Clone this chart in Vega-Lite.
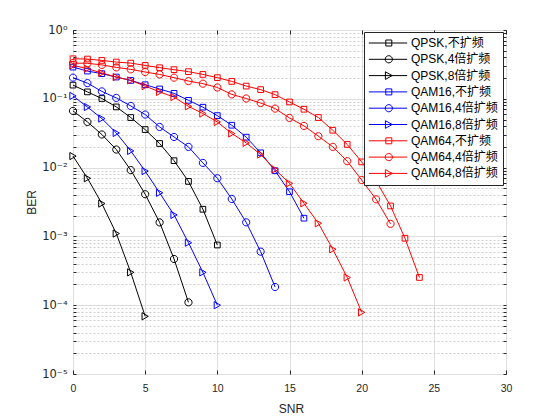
{
  "$schema": "https://vega.github.io/schema/vega-lite/v6.json",
  "width": 433,
  "height": 344,
  "autosize": "none",
  "padding": {"left": 73, "top": 30, "right": 54, "bottom": 46},
  "background": "white",
  "config": {
    "view": {"stroke": "#262626", "strokeWidth": 1},
    "font": "Liberation Sans, DejaVu Sans, Noto Sans CJK SC"
  },
  "data": {
    "values": [
      {"series": "QPSK,不扩频", "snr": 0, "ber": 0.158},
      {"series": "QPSK,不扩频", "snr": 1, "ber": 0.126},
      {"series": "QPSK,不扩频", "snr": 2, "ber": 0.101},
      {"series": "QPSK,不扩频", "snr": 3, "ber": 0.0762},
      {"series": "QPSK,不扩频", "snr": 4, "ber": 0.0534},
      {"series": "QPSK,不扩频", "snr": 5, "ber": 0.0357},
      {"series": "QPSK,不扩频", "snr": 6, "ber": 0.0224},
      {"series": "QPSK,不扩频", "snr": 7, "ber": 0.0126},
      {"series": "QPSK,不扩频", "snr": 8, "ber": 0.0063},
      {"series": "QPSK,不扩频", "snr": 9, "ber": 0.00248},
      {"series": "QPSK,不扩频", "snr": 10, "ber": 0.00075},
      {"series": "QPSK,4倍扩频", "snr": 0, "ber": 0.0667},
      {"series": "QPSK,4倍扩频", "snr": 1, "ber": 0.0461},
      {"series": "QPSK,4倍扩频", "snr": 2, "ber": 0.0303},
      {"series": "QPSK,4倍扩频", "snr": 3, "ber": 0.0183},
      {"series": "QPSK,4倍扩频", "snr": 4, "ber": 0.0092},
      {"series": "QPSK,4倍扩频", "snr": 5, "ber": 0.0041},
      {"series": "QPSK,4倍扩频", "snr": 6, "ber": 0.0016},
      {"series": "QPSK,4倍扩频", "snr": 7, "ber": 0.00047},
      {"series": "QPSK,4倍扩频", "snr": 8, "ber": 0.00011},
      {"series": "QPSK,8倍扩频", "snr": 0, "ber": 0.0147},
      {"series": "QPSK,8倍扩频", "snr": 1, "ber": 0.0070},
      {"series": "QPSK,8倍扩频", "snr": 2, "ber": 0.0030},
      {"series": "QPSK,8倍扩频", "snr": 3, "ber": 0.0011},
      {"series": "QPSK,8倍扩频", "snr": 4, "ber": 0.0003},
      {"series": "QPSK,8倍扩频", "snr": 5, "ber": 0.000069},
      {"series": "QAM16,不扩频", "snr": 0, "ber": 0.289},
      {"series": "QAM16,不扩频", "snr": 1, "ber": 0.253},
      {"series": "QAM16,不扩频", "snr": 2, "ber": 0.232},
      {"series": "QAM16,不扩频", "snr": 3, "ber": 0.207},
      {"series": "QAM16,不扩频", "snr": 4, "ber": 0.185},
      {"series": "QAM16,不扩频", "snr": 5, "ber": 0.160},
      {"series": "QAM16,不扩频", "snr": 6, "ber": 0.139},
      {"series": "QAM16,不扩频", "snr": 7, "ber": 0.120},
      {"series": "QAM16,不扩频", "snr": 8, "ber": 0.095},
      {"series": "QAM16,不扩频", "snr": 9, "ber": 0.0755},
      {"series": "QAM16,不扩频", "snr": 10, "ber": 0.057},
      {"series": "QAM16,不扩频", "snr": 11, "ber": 0.0413},
      {"series": "QAM16,不扩频", "snr": 12, "ber": 0.0277},
      {"series": "QAM16,不扩频", "snr": 13, "ber": 0.0164},
      {"series": "QAM16,不扩频", "snr": 14, "ber": 0.0090},
      {"series": "QAM16,不扩频", "snr": 15, "ber": 0.00446},
      {"series": "QAM16,不扩频", "snr": 16, "ber": 0.00184},
      {"series": "QAM16,4倍扩频", "snr": 0, "ber": 0.203},
      {"series": "QAM16,4倍扩频", "snr": 1, "ber": 0.169},
      {"series": "QAM16,4倍扩频", "snr": 2, "ber": 0.128},
      {"series": "QAM16,4倍扩频", "snr": 3, "ber": 0.103},
      {"series": "QAM16,4倍扩频", "snr": 4, "ber": 0.0787},
      {"series": "QAM16,4倍扩频", "snr": 5, "ber": 0.059},
      {"series": "QAM16,4倍扩频", "snr": 6, "ber": 0.039},
      {"series": "QAM16,4倍扩频", "snr": 7, "ber": 0.0279},
      {"series": "QAM16,4倍扩频", "snr": 8, "ber": 0.020},
      {"series": "QAM16,4倍扩频", "snr": 9, "ber": 0.0117},
      {"series": "QAM16,4倍扩频", "snr": 10, "ber": 0.0070},
      {"series": "QAM16,4倍扩频", "snr": 11, "ber": 0.0035},
      {"series": "QAM16,4倍扩频", "snr": 12, "ber": 0.0016},
      {"series": "QAM16,4倍扩频", "snr": 13, "ber": 0.0006},
      {"series": "QAM16,4倍扩频", "snr": 14, "ber": 0.000184},
      {"series": "QAM16,8倍扩频", "snr": 0, "ber": 0.110},
      {"series": "QAM16,8倍扩频", "snr": 1, "ber": 0.076},
      {"series": "QAM16,8倍扩频", "snr": 2, "ber": 0.0516},
      {"series": "QAM16,8倍扩频", "snr": 3, "ber": 0.0319},
      {"series": "QAM16,8倍扩频", "snr": 4, "ber": 0.0175},
      {"series": "QAM16,8倍扩频", "snr": 5, "ber": 0.0089},
      {"series": "QAM16,8倍扩频", "snr": 6, "ber": 0.0043},
      {"series": "QAM16,8倍扩频", "snr": 7, "ber": 0.00205},
      {"series": "QAM16,8倍扩频", "snr": 8, "ber": 0.00081},
      {"series": "QAM16,8倍扩频", "snr": 9, "ber": 0.0003},
      {"series": "QAM16,8倍扩频", "snr": 10, "ber": 0.0001},
      {"series": "QAM64,不扩频", "snr": 0, "ber": 0.382},
      {"series": "QAM64,不扩频", "snr": 1, "ber": 0.378},
      {"series": "QAM64,不扩频", "snr": 2, "ber": 0.361},
      {"series": "QAM64,不扩频", "snr": 3, "ber": 0.342},
      {"series": "QAM64,不扩频", "snr": 4, "ber": 0.330},
      {"series": "QAM64,不扩频", "snr": 5, "ber": 0.306},
      {"series": "QAM64,不扩频", "snr": 6, "ber": 0.283},
      {"series": "QAM64,不扩频", "snr": 7, "ber": 0.265},
      {"series": "QAM64,不扩频", "snr": 8, "ber": 0.248},
      {"series": "QAM64,不扩频", "snr": 9, "ber": 0.226},
      {"series": "QAM64,不扩频", "snr": 10, "ber": 0.203},
      {"series": "QAM64,不扩频", "snr": 11, "ber": 0.179},
      {"series": "QAM64,不扩频", "snr": 12, "ber": 0.153},
      {"series": "QAM64,不扩频", "snr": 13, "ber": 0.136},
      {"series": "QAM64,不扩频", "snr": 14, "ber": 0.115},
      {"series": "QAM64,不扩频", "snr": 15, "ber": 0.090},
      {"series": "QAM64,不扩频", "snr": 16, "ber": 0.0705},
      {"series": "QAM64,不扩频", "snr": 17, "ber": 0.0534},
      {"series": "QAM64,不扩频", "snr": 18, "ber": 0.0349},
      {"series": "QAM64,不扩频", "snr": 19, "ber": 0.0217},
      {"series": "QAM64,不扩频", "snr": 20, "ber": 0.0121},
      {"series": "QAM64,不扩频", "snr": 21, "ber": 0.0064},
      {"series": "QAM64,不扩频", "snr": 22, "ber": 0.00277},
      {"series": "QAM64,不扩频", "snr": 23, "ber": 0.00094},
      {"series": "QAM64,不扩频", "snr": 24, "ber": 0.000253},
      {"series": "QAM64,4倍扩频", "snr": 0, "ber": 0.330},
      {"series": "QAM64,4倍扩频", "snr": 1, "ber": 0.328},
      {"series": "QAM64,4倍扩频", "snr": 2, "ber": 0.311},
      {"series": "QAM64,4倍扩频", "snr": 3, "ber": 0.286},
      {"series": "QAM64,4倍扩频", "snr": 4, "ber": 0.268},
      {"series": "QAM64,4倍扩频", "snr": 5, "ber": 0.245},
      {"series": "QAM64,4倍扩频", "snr": 6, "ber": 0.226},
      {"series": "QAM64,4倍扩频", "snr": 7, "ber": 0.203},
      {"series": "QAM64,4倍扩频", "snr": 8, "ber": 0.181},
      {"series": "QAM64,4倍扩频", "snr": 9, "ber": 0.166},
      {"series": "QAM64,4倍扩频", "snr": 10, "ber": 0.146},
      {"series": "QAM64,4倍扩频", "snr": 11, "ber": 0.116},
      {"series": "QAM64,4倍扩频", "snr": 12, "ber": 0.101},
      {"series": "QAM64,4倍扩频", "snr": 13, "ber": 0.0869},
      {"series": "QAM64,4倍扩频", "snr": 14, "ber": 0.0721},
      {"series": "QAM64,4倍扩频", "snr": 15, "ber": 0.0527},
      {"series": "QAM64,4倍扩频", "snr": 16, "ber": 0.0404},
      {"series": "QAM64,4倍扩频", "snr": 17, "ber": 0.0286},
      {"series": "QAM64,4倍扩频", "snr": 18, "ber": 0.0200},
      {"series": "QAM64,4倍扩频", "snr": 19, "ber": 0.0124},
      {"series": "QAM64,4倍扩频", "snr": 20, "ber": 0.0066},
      {"series": "QAM64,4倍扩频", "snr": 21, "ber": 0.00346},
      {"series": "QAM64,4倍扩频", "snr": 22, "ber": 0.00152},
      {"series": "QAM64,8倍扩频", "snr": 0, "ber": 0.306},
      {"series": "QAM64,8倍扩频", "snr": 1, "ber": 0.274},
      {"series": "QAM64,8倍扩频", "snr": 2, "ber": 0.237},
      {"series": "QAM64,8倍扩频", "snr": 3, "ber": 0.207},
      {"series": "QAM64,8倍扩频", "snr": 4, "ber": 0.185},
      {"series": "QAM64,8倍扩频", "snr": 5, "ber": 0.153},
      {"series": "QAM64,8倍扩频", "snr": 6, "ber": 0.126},
      {"series": "QAM64,8倍扩频", "snr": 7, "ber": 0.106},
      {"series": "QAM64,8倍扩频", "snr": 8, "ber": 0.0778},
      {"series": "QAM64,8倍扩频", "snr": 9, "ber": 0.061},
      {"series": "QAM64,8倍扩频", "snr": 10, "ber": 0.0461},
      {"series": "QAM64,8倍扩频", "snr": 11, "ber": 0.0313},
      {"series": "QAM64,8倍扩频", "snr": 12, "ber": 0.0229},
      {"series": "QAM64,8倍扩频", "snr": 13, "ber": 0.0155},
      {"series": "QAM64,8倍扩频", "snr": 14, "ber": 0.0094},
      {"series": "QAM64,8倍扩频", "snr": 15, "ber": 0.0059},
      {"series": "QAM64,8倍扩频", "snr": 16, "ber": 0.00303},
      {"series": "QAM64,8倍扩频", "snr": 17, "ber": 0.00155},
      {"series": "QAM64,8倍扩频", "snr": 18, "ber": 0.00065},
      {"series": "QAM64,8倍扩频", "snr": 19, "ber": 0.000253},
      {"series": "QAM64,8倍扩频", "snr": 20, "ber": 0.0000787}
    ]
  },
  "layer": [
    {
      "mark": {"type": "line", "strokeWidth": 1},
      "encoding": {
        "x": {"field": "snr", "type": "quantitative", "scale": {"domain": [0, 30], "nice": false, "zero": false},
          "axis": {"orient": "bottom", "values": [0, 5, 10, 15, 20, 25, 30], "title": "SNR", "grid": true, "gridColor": "#dedede", "gridWidth": 1,
            "domain": false, "tickColor": "#262626", "tickSize": -4, "labelPadding": 13, "labelFontSize": 10.5, "labelColor": "#262626",
            "labelFont": "Liberation Sans", "labelFlush": false, "labelOverlap": false,
            "titleFont": "Liberation Sans", "titleFontSize": 12, "titleFontWeight": "normal", "titleColor": "#262626", "titleY": 34, "titleBaseline": "middle", "titleX": 218}},
        "y": {"field": "ber", "type": "quantitative", "scale": {"type": "log", "domain": [0.00001, 1], "nice": false},
          "axis": {"orient": "left",
            "values": [0.00001, 0.00002, 0.00003, 0.00004, 0.00005, 0.00006, 0.00007, 0.00008, 0.00009, 0.0001, 0.0002, 0.0003, 0.0004, 0.0005, 0.0006, 0.0007, 0.0008, 0.0009, 0.001, 0.002, 0.003, 0.004, 0.005, 0.006, 0.007, 0.008, 0.009, 0.01, 0.02, 0.03, 0.04, 0.05, 0.06, 0.07, 0.08, 0.09, 0.1, 0.2, 0.3, 0.4, 0.5, 0.6, 0.7, 0.8, 0.9, 1],
            "labelExpr": "abs(log(datum.value)/LN10 - round(log(datum.value)/LN10)) < 0.01 ? '10' + ['⁰','⁻¹','⁻²','⁻³','⁻⁴','⁻⁵'][-round(log(datum.value)/LN10)] : ''",
            "title": "BER", "grid": true,
            "gridColor": {"condition": {"test": "abs(log(datum.value)/LN10 - round(log(datum.value)/LN10)) > 0.01", "value": "#cfcfcf"}, "value": "#dedede"},
            "gridDash": {"condition": {"test": "abs(log(datum.value)/LN10 - round(log(datum.value)/LN10)) > 0.01", "value": [2, 2]}, "value": []},
            "domain": false, "tickColor": "#262626", "tickSize": -3, "labelPadding": 9, "labelFontSize": 11.5, "labelColor": "#262626",
            "labelFont": "DejaVu Sans", "labelOverlap": false, "labelBaseline": "middle",
            "titleFont": "Liberation Sans", "titleFontSize": 12, "titleFontWeight": "normal", "titleColor": "#262626", "titleX": -42, "titleY": 172, "titleBaseline": "middle"}},
        "color": {"field": "series", "type": "nominal",
          "scale": {"domain": ["QPSK,不扩频", "QPSK,4倍扩频", "QPSK,8倍扩频", "QAM16,不扩频", "QAM16,4倍扩频", "QAM16,8倍扩频", "QAM64,不扩频", "QAM64,4倍扩频", "QAM64,8倍扩频"],
            "range": ["#000000", "#000000", "#000000", "#0000ff", "#0000ff", "#0000ff", "#ff0000", "#ff0000", "#ff0000"]},
          "legend": {"title": null, "orient": "none", "legendX": 291, "legendY": 2, "fillColor": "white", "strokeColor": "#262626", "padding": 5,
            "labelFont": "Liberation Sans, Noto Sans CJK SC", "labelFontSize": 12, "labelColor": "#000000", "labelOffset": 30, "rowPadding": 4.3,
            "symbolStrokeWidth": 1, "symbolSize": 64, "symbolType": "M-1.55,0H8.05", "labelLimit": 300,
            "encode": {"symbols": {"update": {
              "shape": {"signal": "indexof(datum.value, '不扩频') >= 0 ? 'M-1.55,0H8.05M2.7,-0.75H4.2V0.75H2.7Z' : indexof(datum.value, '4倍') >= 0 ? 'M-1.55,0H8.05M4.35,0A0.9,0.9,0,1,1,2.55,0A0.9,0.9,0,1,1,4.35,0Z' : 'M-1.55,0H8.05M4.3,0L2.6,-0.95L2.6,0.95Z'"},
              "fill": {"value": "transparent"},
              "strokeWidth": {"value": 1}}}}}}
      }
    },
    {
      "transform": [{"filter": {"field": "series", "oneOf": ["QPSK,不扩频", "QAM16,不扩频", "QAM64,不扩频"]}}],
      "mark": {"type": "point", "shape": "M-0.95,-0.95H0.95V0.95H-0.95Z", "size": 36, "filled": false, "strokeWidth": 1, "opacity": 1},
      "encoding": {
        "x": {"field": "snr", "type": "quantitative",
          "axis": {"orient": "top", "values": [0, 5, 10, 15, 20, 25, 30], "labels": false, "grid": false, "domain": false, "tickSize": -4, "tickColor": "#262626", "title": null}},
        "y": {"field": "ber", "type": "quantitative",
          "axis": {"orient": "right",
            "values": [0.00001, 0.00002, 0.00003, 0.00004, 0.00005, 0.00006, 0.00007, 0.00008, 0.00009, 0.0001, 0.0002, 0.0003, 0.0004, 0.0005, 0.0006, 0.0007, 0.0008, 0.0009, 0.001, 0.002, 0.003, 0.004, 0.005, 0.006, 0.007, 0.008, 0.009, 0.01, 0.02, 0.03, 0.04, 0.05, 0.06, 0.07, 0.08, 0.09, 0.1, 0.2, 0.3, 0.4, 0.5, 0.6, 0.7, 0.8, 0.9, 1],
            "labels": false, "grid": false, "domain": false, "tickSize": -3, "tickColor": "#262626", "title": null}},
        "color": {"field": "series", "type": "nominal", "legend": null}
      }
    },
    {
      "transform": [{"filter": {"field": "series", "oneOf": ["QPSK,4倍扩频", "QAM16,4倍扩频", "QAM64,4倍扩频"]}}],
      "mark": {"type": "point", "shape": "M1.2,0A1.2,1.2,0,1,1,-1.2,0A1.2,1.2,0,1,1,1.2,0Z", "size": 36, "filled": false, "strokeWidth": 1, "opacity": 1},
      "encoding": {
        "x": {"field": "snr", "type": "quantitative", "axis": null},
        "y": {"field": "ber", "type": "quantitative", "axis": null},
        "color": {"field": "series", "type": "nominal", "legend": null}
      }
    },
    {
      "transform": [{"filter": {"field": "series", "oneOf": ["QPSK,8倍扩频", "QAM16,8倍扩频", "QAM64,8倍扩频"]}}],
      "mark": {"type": "point", "shape": "M1.05,0L-1.05,-1.2L-1.05,1.2Z", "size": 36, "filled": false, "strokeWidth": 1, "opacity": 1},
      "encoding": {
        "x": {"field": "snr", "type": "quantitative", "axis": null},
        "y": {"field": "ber", "type": "quantitative", "axis": null},
        "color": {"field": "series", "type": "nominal", "legend": null}
      }
    }
  ],
  "resolve": {"axis": {"x": "independent", "y": "independent"}}
}
